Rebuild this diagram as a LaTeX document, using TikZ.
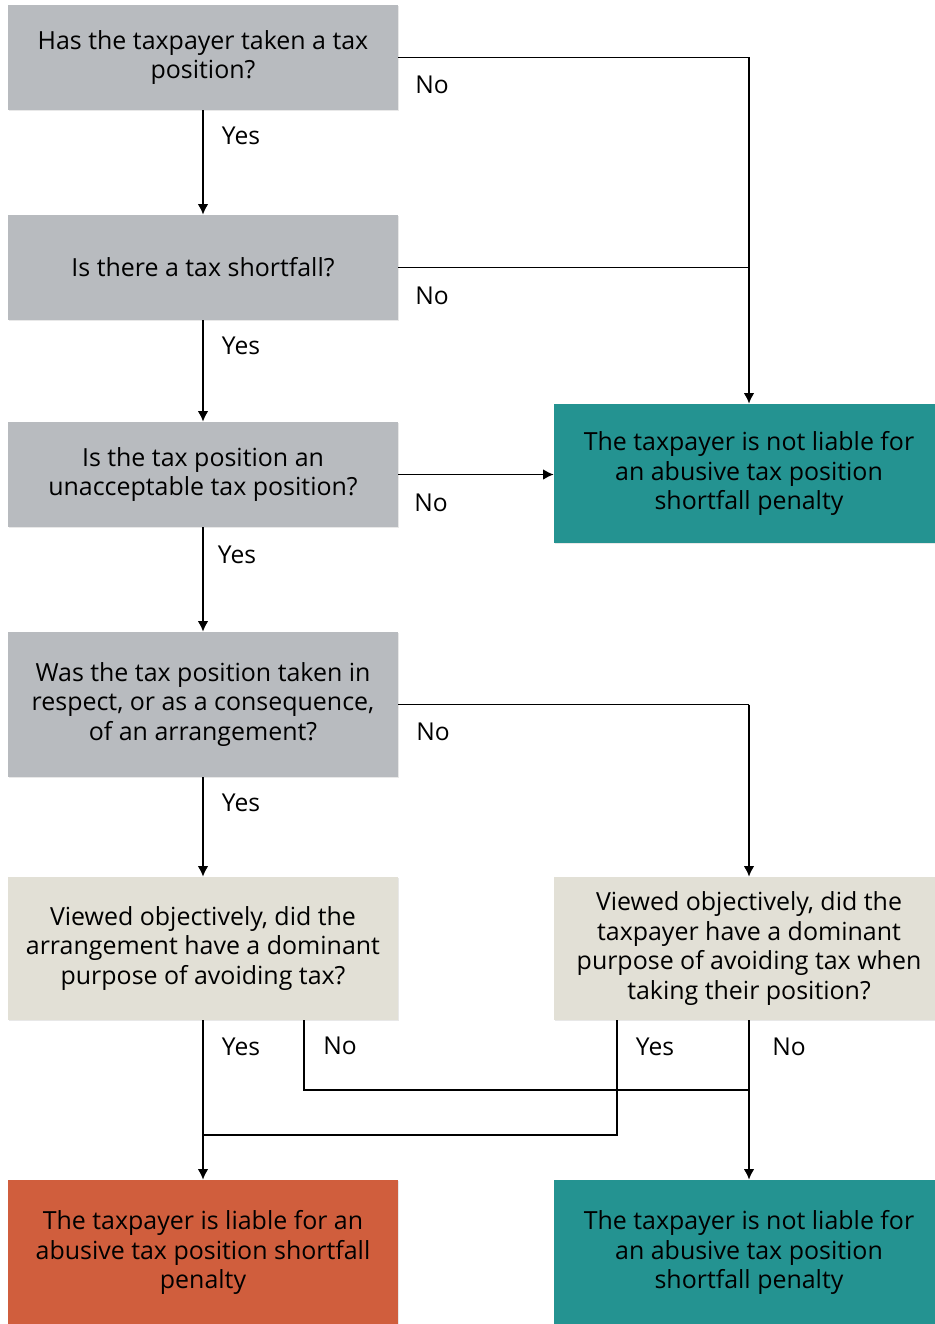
\documentclass[tikz,border=0pt]{standalone}
\usepackage{fontspec}
\setmainfont{Open Sans}
\usetikzlibrary{arrows.meta,shadows}
\definecolor{qgray}{HTML}{B8BBBF}
\definecolor{qbeige}{HTML}{E2E0D6}
\definecolor{ateal}{HTML}{249391}
\definecolor{aorange}{HTML}{D05E3D}
\begin{document}
\begin{tikzpicture}[x=0.02cm, y=-0.02cm,
    box/.style={rectangle, inner sep=0pt, align=center,
      minimum width=7.8cm, font=\fontsize{14.2}{17}\selectfont,
      drop shadow={opacity=0.18, shadow xshift=0.6pt, shadow yshift=-0.6pt}},
    qbox/.style={box, fill=qgray},
    pbox/.style={box, fill=qbeige},
    tbox/.style={box, fill=ateal},
    obox/.style={box, fill=aorange},
    link/.style={line width=0.9pt},
    arr/.style={link, -{Latex[length=6pt, width=6pt]}},
    lbl/.style={font=\fontsize{14}{16}\selectfont}]
  \useasboundingbox (0,0) rectangle (934,1324);

  %% questions
  \node[qbox, minimum height=2.1cm] (has) at (203,57.5) {Has the taxpayer taken a tax\\position?};
  \node[qbox, minimum height=2.1cm] (short) at (203,267.5) {Is there a tax shortfall?};
  \node[qbox, minimum height=2.1cm] (unacc) at (203,474.5) {Is the tax position an\\unacceptable tax position?};
  \node[qbox, minimum height=2.9cm] (arrg) at (203,704.5) {Was the tax position taken in\\respect, or as a consequence,\\of an arrangement?};
  \node[pbox, minimum height=2.86cm] (domarr) at (203,948.5) {Viewed objectively, did the\\arrangement have a dominant\\purpose of avoiding tax?};
  \node[pbox, minimum height=2.86cm] (dompos) at (749,948.5) {Viewed objectively, did the\\taxpayer have a dominant\\purpose of avoiding tax when\\taking their position?};

  %% outcomes
  \node[tbox, minimum height=2.78cm] (notlia) at (749,473.5) {The taxpayer is not liable for\\an abusive tax position\\shortfall penalty};
  \node[obox, minimum height=2.9cm] (liable) at (203,1252.5) {The taxpayer is liable for an\\abusive tax position shortfall\\penalty};
  \node[tbox, minimum height=2.9cm] (notlib) at (749,1252.5) {The taxpayer is not liable for\\an abusive tax position\\shortfall penalty};

  %% junctions
  \coordinate (jtop) at (749,57.5);
  \coordinate (jarr) at (749,704.5);
  \coordinate (jno) at (749,1090);
  \coordinate (jyes) at (203,1135);
  \coordinate (domno) at (304,1020);
  \coordinate (domyes) at (617,1020);

  %% yes path
  \draw[arr] (has) -- (short);
  \draw[arr] (short) -- (unacc);
  \draw[arr] (unacc) -- (arrg);
  \draw[arr] (arrg) -- (domarr);
  \draw[arr] (domarr) -- (liable);
  \draw[link] (domyes) |- (jyes);

  %% no path
  \draw[link] (has.east) -- (jtop);
  \draw[arr] (jtop) -- (notlia.north);
  \draw[link] (short.east) -- (short.east -| jtop);
  \draw[arr] (unacc.east) -- (unacc.east -| notlia.west);
  \draw[link] (arrg.east) -- (jarr);
  \draw[arr] (jarr) -- (dompos.north);
  \draw[link] (domno) |- (jno);
  \draw[arr] (dompos) -- (notlib);

  %% labels
  \node[lbl] (n1) at (432,85) {No};
  \node[lbl] (y1) at (241,136) {Yes};
  \node[lbl] (n2) at (432,296) {No};
  \node[lbl] (y2) at (241,346) {Yes};
  \node[lbl] (n3) at (431,503) {No};
  \node[lbl] (y3) at (237,555) {Yes};
  \node[lbl] (n4) at (433,732) {No};
  \node[lbl] (y4) at (241,803) {Yes};
  \node[lbl] (y5) at (241,1047) {Yes};
  \node[lbl] (n5) at (340,1046) {No};
  \node[lbl] (y6) at (655,1047) {Yes};
  \node[lbl] (n6) at (789,1047) {No};
\end{tikzpicture}
\end{document}
